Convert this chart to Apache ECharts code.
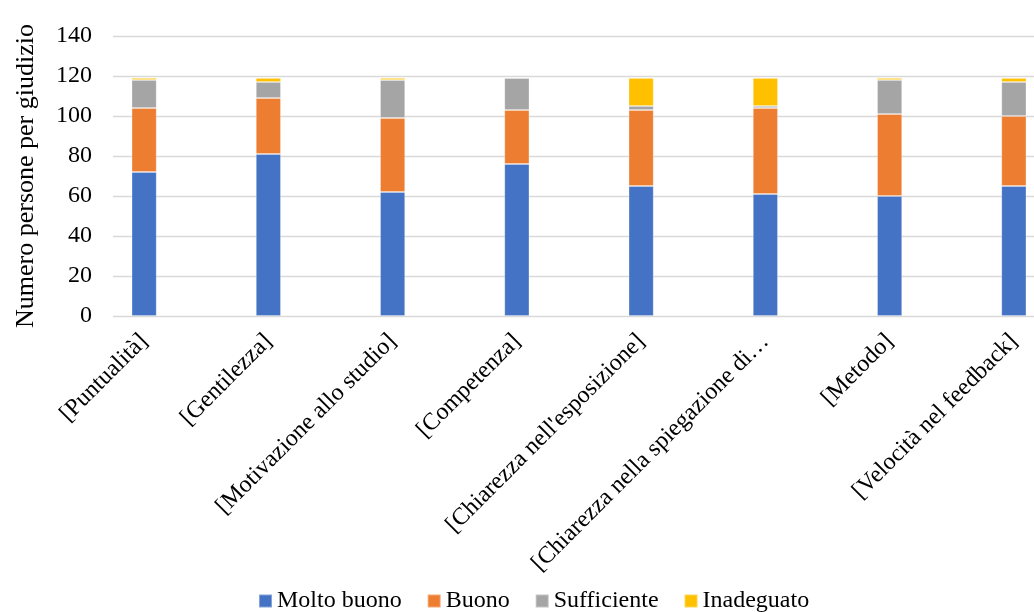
<!DOCTYPE html>
<html>
<head>
<meta charset="utf-8">
<script src="https://cdn.jsdelivr.net/npm/echarts@6/dist/echarts.min.js"></script>
<style>
  html, body { margin: 0; padding: 0; background: #fff; }
  #chart { width: 1034px; height: 612px; }
</style>
</head>
<body>
<div id="chart"></div>
<script>
// Categories (rated aspects) and number of people per rating
const categories = [
  '[Puntualità]',
  '[Gentilezza]',
  '[Motivazione allo studio]',
  '[Competenza]',
  "[Chiarezza nell'esposizione]",
  '[Chiarezza nella spiegazione di…',
  '[Metodo]',
  '[Velocità nel feedback]'
];
const moltoBuono  = [72, 81, 62, 76, 65, 61, 60, 65];
const buono       = [32, 28, 37, 27, 38, 43, 41, 35];
const sufficiente = [14,  8, 19, 16,  2,  1, 17, 17];
const inadeguato  = [ 1,  2,  1,  0, 14, 14,  1,  2];
const yTicks = { min: 0, max: 140, interval: 20 };

const serif = '"Liberation Serif", "Times New Roman", serif';
const colors = ['#4472C4', '#ED7D31', '#A5A5A5', '#FFC000'];

const chart = echarts.init(document.getElementById('chart'), null, { renderer: 'canvas' });

function barSeries(name, data, color) {
  return {
    name: name,
    type: 'bar',
    stack: 'total',
    xAxisIndex: 1,
    yAxisIndex: 1,
    barWidth: 25,
    data: data,
    itemStyle: { color: color, borderColor: 'rgba(255,255,255,0.35)', borderWidth: 0.8 },
    emphasis: { disabled: true }
  };
}

chart.setOption({
  animation: false,
  backgroundColor: '#ffffff',
  textStyle: { fontFamily: serif },
  color: colors,
  grid: [
    // value axis and horizontal gridlines
    { left: 113, right: 0, top: 36, bottom: 296, outerBoundsMode: 'none', containLabel: false },
    // category bands holding the stacked bars (plot runs past the right edge)
    { left: 82, width: 994, top: 36, bottom: 296, outerBoundsMode: 'none', containLabel: false }
  ],
  legend: {
    bottom: -6,
    left: 253,
    itemWidth: 13,
    itemHeight: 13,
    itemGap: 25,
    icon: 'rect',
    textStyle: { fontFamily: serif, fontSize: 24, color: '#000' },
    data: ['Molto buono', 'Buono', 'Sufficiente', 'Inadeguato']
  },
  xAxis: [
    {
      gridIndex: 0,
      type: 'category',
      data: categories,
      show: false
    },
    {
      gridIndex: 1,
      type: 'category',
      data: categories,
      axisLine: { show: false },
      axisTick: { show: false },
      axisLabel: {
        rotate: 45,
        margin: 22,
        interval: 0,
        hideOverlap: false,
        fontFamily: serif,
        fontSize: 24,
        color: '#000'
      }
    }
  ],
  yAxis: [
    {
      gridIndex: 0,
      type: 'value',
      min: yTicks.min,
      max: yTicks.max,
      interval: yTicks.interval,
      name: 'Numero persone per giudizio',
      nameLocation: 'middle',
      nameGap: 74,
      nameTextStyle: { fontFamily: serif, fontSize: 26, color: '#000' },
      axisLine: { show: false },
      axisTick: { show: false },
      axisLabel: { margin: 21, fontFamily: serif, fontSize: 24, color: '#000' },
      splitLine: { show: true, lineStyle: { color: '#d9d9d9', width: 1.3 } }
    },
    {
      gridIndex: 1,
      type: 'value',
      min: yTicks.min,
      max: yTicks.max,
      interval: yTicks.interval,
      show: false,
      splitLine: { show: false }
    }
  ],
  series: [
    barSeries('Molto buono', moltoBuono, colors[0]),
    barSeries('Buono', buono, colors[1]),
    barSeries('Sufficiente', sufficiente, colors[2]),
    barSeries('Inadeguato', inadeguato, colors[3])
  ]
});
</script>
</body>
</html>
